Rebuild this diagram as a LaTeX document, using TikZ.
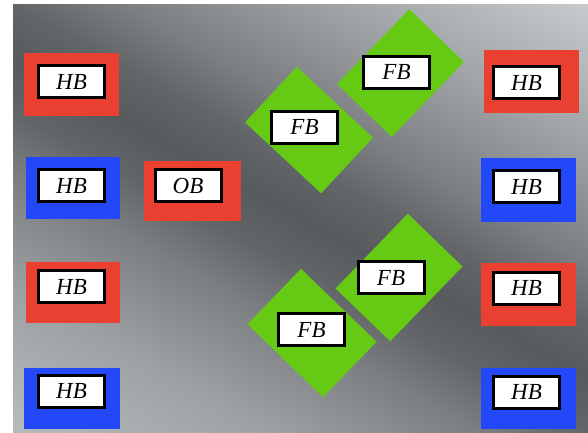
\documentclass[tikz,border=0pt]{standalone}
\usepackage{fontspec}
\setmainfont{Liberation Serif}
\definecolor{boxred}{RGB}{233,64,50}
\definecolor{boxblue}{RGB}{35,72,250}
\definecolor{boxgreen}{RGB}{102,202,20}
\definecolor{gA}{RGB}{184,187,190}
\definecolor{gB}{RGB}{158,161,164}
\definecolor{gC}{RGB}{124,127,130}
\definecolor{gD}{RGB}{98,101,104}
\definecolor{gE}{RGB}{88,91,94}
\definecolor{gF}{RGB}{160,163,166}
\definecolor{gG}{RGB}{200,203,206}
\pgfdeclareverticalshading{bggrad}{800bp}{color(0bp)=(gA); color(74bp)=(gA); color(200bp)=(gB); color(300bp)=(gC); color(355bp)=(gD); color(400bp)=(gE); color(445bp)=(gD); color(500bp)=(gC); color(600bp)=(gF); color(726bp)=(gG); color(800bp)=(gG)}
\tikzset{
  outerbox/.style={rectangle, inner sep=0pt, outer sep=0pt},
  redbox/.style={outerbox, fill=boxred},
  bluebox/.style={outerbox, fill=boxblue},
  greenbox/.style={outerbox, fill=boxgreen, minimum width=104pt, minimum height=76pt},
  label/.style={rectangle, draw=black, fill=white, line width=3pt, minimum width=66pt, minimum height=32pt, inner sep=0pt, font=\fontsize{23}{23}\selectfont\itshape}
}
\begin{document}
\begin{tikzpicture}[x=1pt,y=-1pt]
\useasboundingbox (0,0) rectangle (588,432);
\fill[white] (0,0) rectangle (588,432);
\begin{scope}
\clip (13,4) rectangle (588,432);
\node[inner sep=0pt, outer sep=0pt, rotate=-29] (bg) at (300.5,218) {\pgfuseshading{bggrad}};
\end{scope}
% left column
\node[redbox, minimum width=95pt, minimum height=63pt] (l1) at (71.5,84.5) {};
\node[bluebox, minimum width=94pt, minimum height=62pt] (l2) at (73,188) {};
\node[redbox, minimum width=94pt, minimum height=61pt] (l3) at (73,292.5) {};
\node[bluebox, minimum width=96pt, minimum height=61pt] (l4) at (72,398.5) {};
\node[redbox, minimum width=97pt, minimum height=60pt] (ob) at (192.5,191) {};
% right column
\node[redbox, minimum width=95pt, minimum height=63pt] (r1) at (531.5,81.5) {};
\node[bluebox, minimum width=95pt, minimum height=64pt] (r2) at (528.5,190) {};
\node[redbox, minimum width=95pt, minimum height=63pt] (r3) at (528.5,294.5) {};
\node[bluebox, minimum width=95pt, minimum height=61pt] (r4) at (528.5,398.5) {};
% green rotated boxes
\node[greenbox, rotate=-43] (g1) at (309,130) {};
\node[greenbox, rotate=46] (g2) at (400.5,73) {};
\node[greenbox, rotate=-44, minimum width=105pt, minimum height=77pt] (g3) at (312,333) {};
\node[greenbox, rotate=46] (g4) at (399,277.5) {};
% labels
\node[label] (l1t) at (71.5,81.5) {HB};
\node[label] (l2t) at (71.5,185.5) {HB};
\node[label] (l3t) at (71.5,286.5) {HB};
\node[label] (l4t) at (71.5,391) {HB};
\node[label] (obt) at (188,185.5) {OB};
\node[label] (r1t) at (526.5,82.5) {HB};
\node[label] (r2t) at (526.5,186.5) {HB};
\node[label] (r3t) at (526.5,288) {HB};
\node[label] (r4t) at (526.5,392) {HB};
\node[label] (g1t) at (304.5,127) {FB};
\node[label] (g2t) at (396.5,72) {FB};
\node[label] (g3t) at (311.5,329.5) {FB};
\node[label] (g4t) at (391,277.5) {FB};
\end{tikzpicture}
\end{document}
